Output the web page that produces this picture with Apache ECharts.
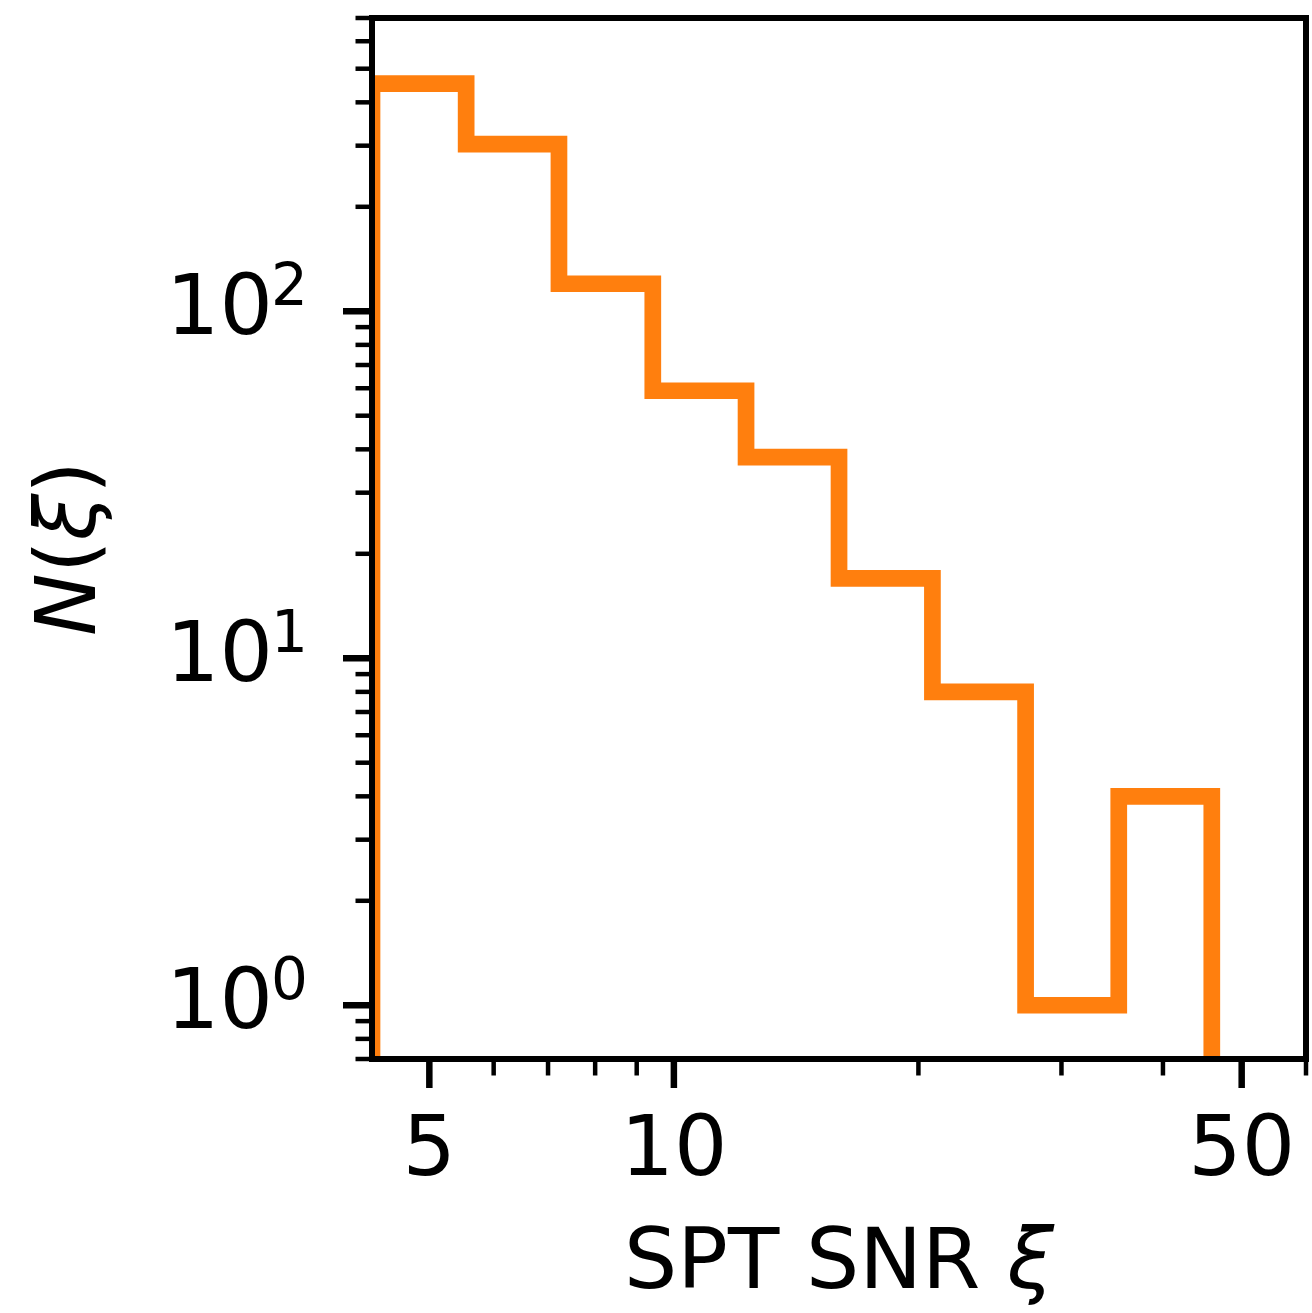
<!DOCTYPE html>
<html><head><meta charset="utf-8">
<script src="https://cdn.jsdelivr.net/npm/echarts@6/dist/echarts.min.js"></script>
<style>html,body{margin:0;padding:0;background:#fff}#c{width:1312px;height:1313px}</style>
</head><body><div id="c"></div>
<script>
// ---- data ----
const binEdges = [4.25, 5.55, 7.22, 9.42, 12.27, 15.97, 20.81, 27.10, 35.29, 45.94];
const binCounts = [453, 303, 120, 59, 38, 17, 8, 1, 4];
const xMajorTicks = [5, 10, 50];
const xMajorLabels = ['5', '10', '50'];
const xMinorTicks = [6, 7, 8, 9, 20, 30, 40, 60];
const yMajorTicks = [1, 10, 100];
const yMajorExponents = ['0', '1', '2'];
const yMinorTicks = [0.7, 0.8, 0.9, 2, 3, 4, 5, 6, 7, 8, 9, 20, 30, 40, 50, 60, 70, 80, 90, 200, 300, 400, 500, 600, 700];
const X_MIN = 4.25, X_MAX = 60, Y_MIN = 0.7, Y_MAX = 700;

// ---- derived ----
const stepPoints = [[binEdges[0], Y_MIN]];
binCounts.forEach((c, i) => { stepPoints.push([binEdges[i], c]); stepPoints.push([binEdges[i + 1], c]); });
stepPoints.push([binEdges[binEdges.length - 1], Y_MIN]);

const xTickList = xMajorTicks.map((v, i) => ({v, major: true, label: xMajorLabels[i]}))
  .concat(xMinorTicks.map(v => ({v, major: false})));
const yTickList = yMajorTicks.map((v, i) => ({v, major: true, exp: yMajorExponents[i]}))
  .concat(yMinorTicks.map(v => ({v, major: false})));

const FONT = '"DejaVu Sans", sans-serif';
const MAJ_LEN = 29, MIN_LEN = 16.5, MAJ_W = 6.5, MIN_W = 4.5;

const chart = echarts.init(document.getElementById('c'), null, {renderer: 'canvas'});
chart.setOption({
  animation: false,
  backgroundColor: '#fff',
  grid: {left: 372, top: 18, width: 934, height: 1042, show: true, borderColor: '#000', borderWidth: 6, backgroundColor: 'transparent', z: 10},
  xAxis: {
    type: 'log', logBase: 10, min: X_MIN, max: X_MAX,
    axisLine: {show: false}, axisTick: {show: false}, axisLabel: {show: false}, splitLine: {show: false},
    name: 'SPT SNR {i|ξ}', nameLocation: 'middle', nameGap: 165,
    nameTextStyle: {fontSize: 84, fontFamily: FONT, color: '#000',
      rich: {i: {fontSize: 84, fontFamily: FONT, fontStyle: 'italic', color: '#000'}}}
  },
  yAxis: {
    type: 'log', logBase: 10, min: Y_MIN, max: Y_MAX,
    axisLine: {show: false}, axisTick: {show: false}, axisLabel: {show: false}, splitLine: {show: false},
    name: '{i|N}{r|(}{i|ξ}{r|)}', nameLocation: 'middle', nameGap: 257, nameRotate: 90,
    nameTextStyle: {fontSize: 84, fontFamily: FONT, color: '#000', padding: [0, 20, 0, 0],
      rich: {i: {fontSize: 84, fontFamily: FONT, fontStyle: 'italic', color: '#000'},
             r: {fontSize: 84, fontFamily: FONT, color: '#000'}}}
  },
  series: [
    {
      type: 'custom', coordinateSystem: 'cartesian2d', z: 2, silent: true,
      data: stepPoints, encode: {x: 0, y: 1},
      renderItem: function (params, api) {
        if (params.dataIndex !== 0) return null;
        const pts = stepPoints.map(p => api.coord(p));
        const cs = params.coordSys;
        return {
          type: 'polyline', shape: {points: pts},
          style: {stroke: '#ff7f0e', lineWidth: 16.7, fill: null, lineJoin: 'miter', lineCap: 'butt'},
          clipPath: {type: 'rect', shape: {x: cs.x, y: cs.y, width: cs.width, height: cs.height}}
        };
      }
    },
    {
      type: 'custom', coordinateSystem: 'cartesian2d', z: 20, silent: true,
      data: xTickList.map(t => [t.v, Y_MIN]), encode: {x: 0, y: 1},
      renderItem: function (params, api) {
        const t = xTickList[params.dataIndex];
        const p = api.coord([t.v, Y_MIN]);
        const len = t.major ? MAJ_LEN : MIN_LEN;
        const children = [{type: 'line', shape: {x1: p[0], y1: p[1], x2: p[0], y2: p[1] + len},
          style: {stroke: '#000', lineWidth: t.major ? MAJ_W : MIN_W}}];
        if (t.major) children.push({type: 'text', style: {text: t.label, x: p[0], y: p[1] + 94,
          font: '84px ' + FONT, fill: '#000', align: 'center', verticalAlign: 'middle'}});
        return {type: 'group', children};
      }
    },
    {
      type: 'custom', coordinateSystem: 'cartesian2d', z: 20, silent: true,
      data: yTickList.map(t => [X_MIN, t.v]), encode: {x: 0, y: 1},
      renderItem: function (params, api) {
        const t = yTickList[params.dataIndex];
        const p = api.coord([X_MIN, t.v]);
        const len = t.major ? MAJ_LEN : MIN_LEN;
        const children = [{type: 'line', shape: {x1: p[0], y1: p[1], x2: p[0] - len, y2: p[1]},
          style: {stroke: '#000', lineWidth: t.major ? MAJ_W : MIN_W}}];
        if (t.major) {
          children.push({type: 'text', style: {text: '10', x: p[0] - 99, y: p[1] + 1,
            font: '84px ' + FONT, fill: '#000', align: 'right', verticalAlign: 'middle'}});
          children.push({type: 'text', style: {text: t.exp, x: p[0] - 101, y: p[1] - 21.5,
            font: '58px ' + FONT, fill: '#000', align: 'left', verticalAlign: 'middle'}});
        }
        return {type: 'group', children};
      }
    }
  ]
});
</script>
</body></html>
